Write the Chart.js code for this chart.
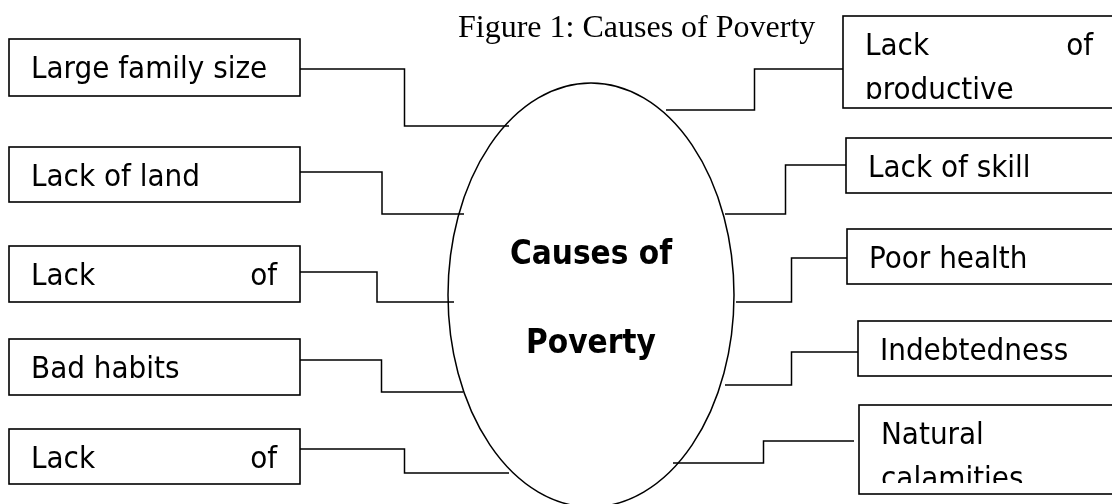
<!DOCTYPE html>
<html><head><meta charset="utf-8">
<script src="https://cdn.jsdelivr.net/npm/chart.js@4.4.1/dist/chart.umd.min.js"></script>
<style>html,body{margin:0;padding:0;background:#fff;overflow:hidden}canvas{display:block}</style>
</head><body>
<canvas id="c" width="1112" height="504"></canvas>
<script>
// ---- content ----
const figureTitle = "Figure 1: Causes of Poverty";
const centerLines = ["Causes of", "Poverty"];
const leftCauses = [["Large family size"], ["Lack of land"], ["Lack of"], ["Bad habits"], ["Lack of"]];
const leftContinues = [false, false, true, false, true];   // text wraps past the visible box -> justified line
const rightCauses = [["Lack of", "productive"], ["Lack of skill"], ["Poor health"], ["Indebtedness"], ["Natural", "calamities"]];

// ---- layout (diagram units = canvas rows/cols on hidden linear scales) ----
const leftBoxLeft = 9, leftBoxRight = 300;
const leftBoxTop = [39, 147, 246, 339, 429];
const leftBoxBottom = [96, 202, 302, 395, 484];
const leftLinkY = [69, 172, 272, 360, 449];
const leftEllipseY = [126, 214, 302, 392, 473];
const leftEllipseX = [509, 464, 454, 463, 509];

const rightBoxRight = 1130;
const rightBoxLeft = [843, 846, 847, 858, 859];
const rightBoxTop = [16, 138, 229, 321, 405];
const rightBoxBottom = [108, 193, 284, 376, 494];
const rightTextClipInset = [10, 10, 10, 10, 12];
const rightLinkY = [69, 165, 258, 352, 441];
const rightLinkEndX = [843, 846, 847, 858, 854];
const rightEllipseY = [110, 214, 302, 385, 463];
const rightEllipseX = [666, 725, 736, 725, 673];

const ellipseCenter = {x: 591, y: 295}, ellipseRadius = {x: 143, y: 212};

const BOX_FONT = "31px 'DejaVu Sans Condensed', 'DejaVu Sans', sans-serif";
const CENTER_FONT = "bold 33px 'DejaVu Sans Condensed', 'DejaVu Sans', sans-serif";
const TITLE_FONT = "32px 'Liberation Serif', 'Times New Roman', serif";

// connectors as stepped line datasets
const datasets = [];
leftCauses.forEach((_, i) => {
  datasets.push({
    data: [{x: leftBoxRight, y: leftLinkY[i]}, {x: leftEllipseX[i], y: leftEllipseY[i]}],
    stepped: 'middle', borderColor: '#000', borderWidth: 1.5, pointRadius: 0, fill: false
  });
});
rightCauses.forEach((_, i) => {
  datasets.push({
    data: [{x: rightEllipseX[i], y: rightEllipseY[i]}, {x: rightLinkEndX[i], y: rightLinkY[i]}],
    stepped: 'middle', borderColor: '#000', borderWidth: 1.5, pointRadius: 0, fill: false
  });
});

const diagramPlugin = {
  id: 'diagram',
  afterDatasetsDraw(chart) {
    const ctx = chart.ctx;
    const X = v => chart.scales.x.getPixelForValue(v);
    const Y = v => chart.scales.y.getPixelForValue(v);
    ctx.save();
    ctx.strokeStyle = '#000';
    ctx.fillStyle = '#000';

    // ellipse
    ctx.lineWidth = 1.5;
    ctx.beginPath();
    const cx = X(ellipseCenter.x), cy = Y(ellipseCenter.y);
    const rx = X(ellipseCenter.x + ellipseRadius.x) - cx;
    const ry = Y(ellipseCenter.y + ellipseRadius.y) - cy;
    ctx.ellipse(cx, cy, Math.abs(rx), Math.abs(ry), 0, 0, Math.PI * 2);
    ctx.stroke();

    // center text
    ctx.font = CENTER_FONT;
    ctx.textAlign = 'center';
    ctx.textBaseline = 'alphabetic';
    ctx.fillText(centerLines[0], cx, Y(264));
    ctx.fillText(centerLines[1], cx, Y(353));

    // title
    ctx.font = TITLE_FONT;
    ctx.textAlign = 'left';
    ctx.fillText(figureTitle, X(458), Y(37));

    function drawBox(l, t, r, b, lines, justifyFirst, inset) {
      const L = X(l), T = Y(t), R = X(r), B = Y(b);
      ctx.lineWidth = 1.6;
      ctx.strokeRect(L, T, R - L, B - T);
      ctx.save();
      ctx.beginPath();
      ctx.rect(L + 1, T + 1, R - L - 2, (B - T) - inset);
      ctx.clip();
      ctx.font = BOX_FONT;
      ctx.textAlign = 'left';
      const tx = L + 22, txEnd = Math.min(R, 1116) - 23;
      lines.forEach((line, k) => {
        const by = T + 39 + k * 44;
        const words = line.split(' ');
        if (justifyFirst && k === 0 && words.length > 1) {
          ctx.textAlign = 'left';
          ctx.fillText(words[0], tx, by);
          ctx.textAlign = 'right';
          ctx.fillText(words[words.length - 1], txEnd, by);
          ctx.textAlign = 'left';
        } else {
          ctx.fillText(line, tx, by);
        }
      });
      ctx.restore();
    }

    leftCauses.forEach((lines, i) => {
      drawBox(leftBoxLeft, leftBoxTop[i], leftBoxRight, leftBoxBottom[i], lines, leftContinues[i], 10);
    });
    rightCauses.forEach((lines, i) => {
      drawBox(rightBoxLeft[i], rightBoxTop[i], rightBoxRight, rightBoxBottom[i], lines, lines.length > 1, rightTextClipInset[i]);
    });
    ctx.restore();
  }
};

new Chart(document.getElementById('c'), {
  type: 'line',
  data: {datasets},
  options: {
    responsive: false,
    animation: false,
    devicePixelRatio: 1,
    layout: {padding: 0},
    scales: {
      x: {type: 'linear', min: 0, max: 1112, display: false},
      y: {type: 'linear', min: 0, max: 504, reverse: true, display: false}
    },
    plugins: {legend: {display: false}, tooltip: {enabled: false}, title: {display: false}}
  },
  plugins: [diagramPlugin]
});
</script>
</body></html>
